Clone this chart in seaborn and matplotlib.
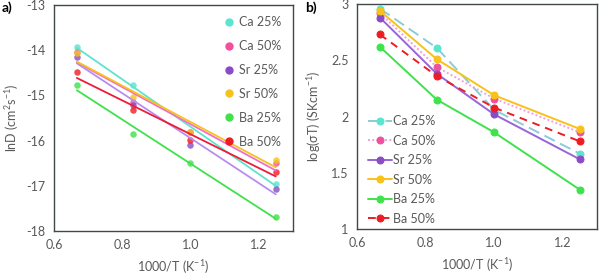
import numpy as np
import pandas as pd
import matplotlib
matplotlib.use("Agg")
import matplotlib.pyplot as plt
import seaborn as sns
from matplotlib.lines import Line2D

sns.set_theme(style="white")
plt.rcParams['font.family'] = ['Lato', 'DejaVu Sans']
plt.rcParams['mathtext.default'] = 'regular'
plt.rcParams['axes.unicode_minus'] = False

x_vals = [0.667, 0.833, 1.0, 1.25]
series = ["Ca 25%", "Ca 50%", "Sr 25%", "Sr 50%", "Ba 25%", "Ba 50%"]

# panel a: lnD
lnD_ca25 = [-13.93, -14.78, -15.80, -16.95]
lnD_ca50 = [-14.05, -15.15, -15.82, -16.50]
lnD_sr25 = [-14.15, -15.22, -16.10, -17.07]
lnD_sr50 = [-14.07, -15.04, -15.81, -16.43]
lnD_ba25 = [-14.78, -15.85, -16.50, -17.69]
lnD_ba50 = [-14.49, -15.33, -15.99, -16.69]

# panel b: log(sigma T)
lg_ca25 = [2.96, 2.61, 2.06, 1.67]
lg_ca50 = [2.92, 2.44, 2.16, 1.86]
lg_sr25 = [2.88, 2.38, 2.02, 1.62]
lg_sr50 = [2.94, 2.51, 2.19, 1.89]
lg_ba25 = [2.62, 2.15, 1.86, 1.35]
lg_ba50 = [2.73, 2.36, 2.08, 1.78]

lnD = [lnD_ca25, lnD_ca50, lnD_sr25, lnD_sr50, lnD_ba25, lnD_ba50]
lg = [lg_ca25, lg_ca50, lg_sr25, lg_sr50, lg_ba25, lg_ba50]

marker_colors = ["#5ee3cf", "#f0509e", "#8a4cc4", "#f7c21a", "#3fe24a", "#ee1c24"]
fit_colors = ["#5ee3cf", "#f070c8", "#b88cf0", "#f7c21a", "#3fe24a", "#ee1c3a"]
b_line_colors = ["#8ccbd8", "#f79ce0", "#9a64d8", "#f7c21a", "#3fe24a", "#ee1c24"]
b_styles = [(0, (6, 3)), (0, (1, 1.2)), "-", "-", "-", (0, (4, 3))]

gray = "#595959"
spine = "#404848"

fig = plt.figure(figsize=(6, 2.75), dpi=100)
ax1 = fig.add_axes([0.09, 0.16, 0.398, 0.822])
ax2 = fig.add_axes([0.595, 0.167, 0.40, 0.818])

for name, ys, mc, fc in zip(series, lnD, marker_colors, fit_colors):
    sns.regplot(x=x_vals, y=ys, ax=ax1, ci=None, truncate=True,
                scatter_kws=dict(s=22, color=mc, linewidths=0),
                line_kws=dict(color=fc, lw=1.3), label=name)

for name, ys, lc, mc, ls in zip(series, lg, b_line_colors, marker_colors, b_styles):
    df = pd.DataFrame({"x": x_vals, "y": ys})
    sns.lineplot(data=df, x="x", y="y", ax=ax2, color=lc, lw=1.4,
                 linestyle=ls, marker="o", markersize=5,
                 markerfacecolor=mc, markeredgecolor=mc, label=name)

for ax in (ax1, ax2):
    ax.set_xlim(0.6, 1.3)
    ax.set_xticks([0.6, 0.8, 1.0, 1.2])
    ax.set_xticklabels(["0.6", "0.8", "1.0", "1.2"])
    for s in ax.spines.values():
        s.set_color(spine)
        s.set_linewidth(1.0)
    ax.tick_params(axis="both", colors=gray, labelsize=9, length=0, pad=6)
    ax.set_xlabel("1000/T (K$^{-1}$)", color=gray, fontsize=9, labelpad=5)

ax1.set_ylim(-18, -13)
ax1.set_yticks([-18, -17, -16, -15, -14, -13])
ax1.set_ylabel("lnD (cm$^{2}$s$^{-1}$)", color=gray, fontsize=9, labelpad=4)
ax2.set_ylim(1, 3)
ax2.set_yticks([1, 1.5, 2, 2.5, 3])
ax2.set_yticklabels(["1", "1.5", "2", "2.5", "3"])
ax2.set_ylabel("log(σT) (SKcm$^{-1}$)", color=gray, fontsize=9, labelpad=6)

h1 = [Line2D([], [], ls="none", marker="o", markersize=5, color=c) for c in marker_colors]
leg1 = ax1.legend(h1, series, loc="upper right", frameon=False, fontsize=9,
                  handlelength=0.6, handletextpad=0.5, labelspacing=0.95,
                  bbox_to_anchor=(1.0, 1.0))
for t in leg1.get_texts():
    t.set_color(gray)

leg2 = ax2.legend(loc="lower left", frameon=False, fontsize=9,
                  handlelength=1.9, handletextpad=0.1, labelspacing=0.6,
                  bbox_to_anchor=(0.0, -0.03))
for t in leg2.get_texts():
    t.set_color(gray)

fig.text(0.002, 0.955, "a)", fontsize=10, color="black", fontweight="bold")
fig.text(0.508, 0.955, "b)", fontsize=10, color="black", fontweight="bold")

fig.savefig("out.png", dpi=100)
